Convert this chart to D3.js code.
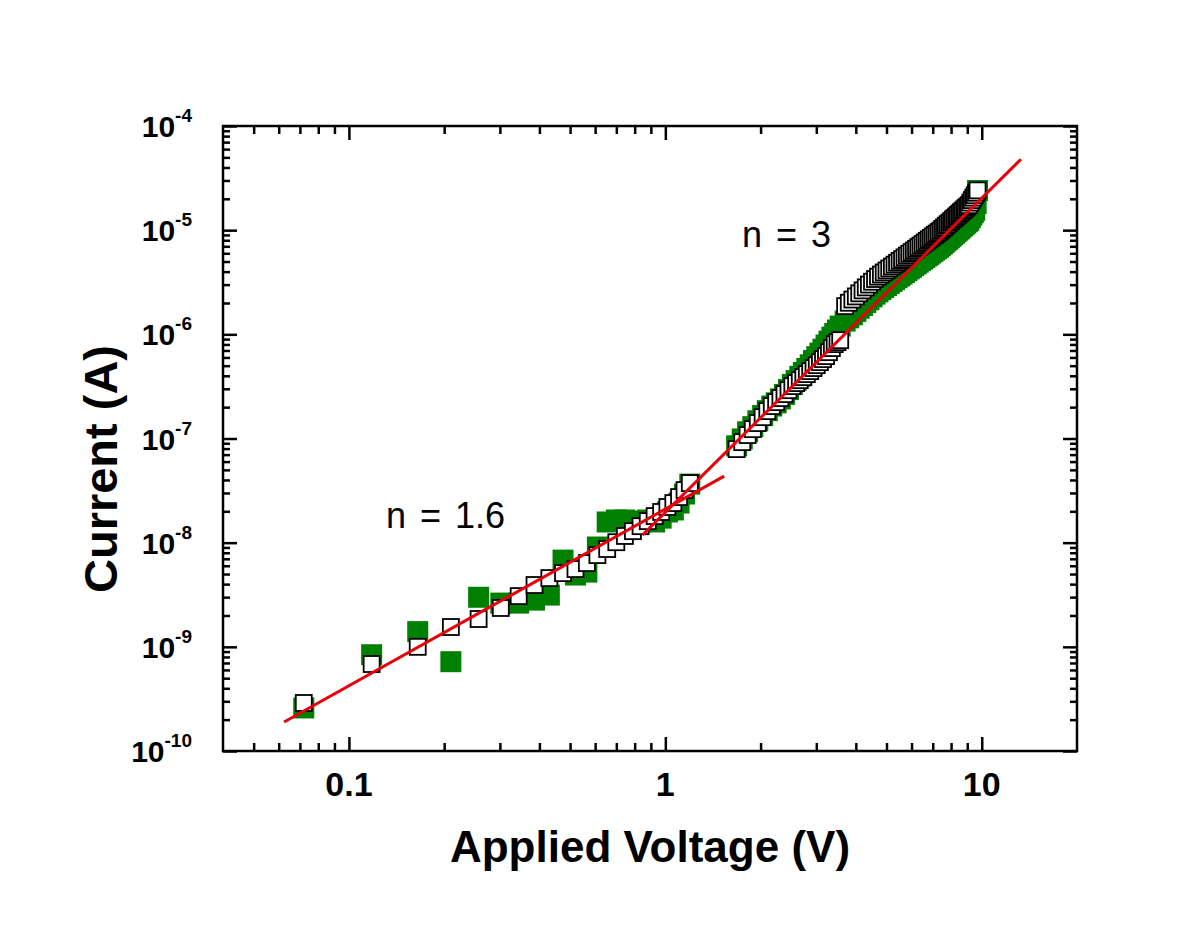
<!DOCTYPE html>
<html><head><meta charset="utf-8">
<script src="https://cdn.jsdelivr.net/npm/d3@7"></script>
<style>body{margin:0;background:#fff}</style>
</head><body><svg id="c" width="1200" height="938"></svg>
<script>
// ---- data ----
const voltage = [0.072,0.118,0.165,0.210,0.257,0.302,0.344,0.386,0.43,0.475,0.52,0.565,0.61,0.655,0.70,0.745,0.79,0.835,0.88,0.925,0.97,1.015,1.06,1.105,1.15,1.195,
1.68,1.75,1.82,1.89,1.96,2.03,2.10,2.17,2.24,2.31,2.38,2.45,2.52,2.59,2.66,2.73,2.80,2.87,2.94,3.01,3.08,3.15,3.22,3.29,3.36,3.43,3.50,3.57,
3.7,3.8,3.9,4.0,4.1,4.2,4.3,4.4,4.5,4.6,4.7,4.8,4.9,5.0,5.1,5.2,5.3,5.4,5.5,5.6,5.7,5.8,5.9,6.0,6.1,6.2,6.3,6.4,6.5,6.6,6.7,6.8,6.9,7.0,7.1,7.2,7.3,7.4,7.5,7.6,7.7,7.8,7.9,8.0,8.1,8.2,8.3,8.4,8.5,8.6,8.7,8.8,8.9,9.0,9.1,9.2,9.3,9.4,9.5,9.6,9.7];
const currentOpen = [2.89e-10,6.84e-10,1.0e-9,1.55e-9,1.85e-9,2.36e-9,3.07e-9,3.92e-9,4.57e-9,5.10e-9,5.58e-9,6.37e-9,7.60e-9,8.69e-9,1.01e-8,1.16e-8,1.29e-8,1.44e-8,1.61e-8,1.80e-8,1.97e-8,2.20e-8,2.40e-8,2.74e-8,3.20e-8,3.73e-8,
7.91e-8,9.23e-8,1.079e-7,1.230e-7,1.406e-7,1.603e-7,1.832e-7,2.047e-7,2.234e-7,2.443e-7,2.667e-7,2.911e-7,3.184e-7,3.404e-7,3.631e-7,3.882e-7,4.150e-7,4.436e-7,4.742e-7,5.058e-7,5.408e-7,5.781e-7,6.180e-7,6.745e-7,7.379e-7,8.054e-7,8.41e-7,8.79e-7,
1.866e-6,2.01e-6,2.158e-6,2.312e-6,2.475e-6,2.642e-6,2.822e-6,3.006e-6,3.199e-6,3.396e-6,3.576e-6,3.750e-6,3.926e-6,4.102e-6,4.285e-6,4.477e-6,4.667e-6,4.864e-6,5.070e-6,5.272e-6,5.483e-6,5.702e-6,5.929e-6,6.152e-6,6.383e-6,6.622e-6,6.871e-6,7.112e-6,7.362e-6,7.621e-6,7.889e-6,8.147e-6,8.414e-6,8.710e-6,8.995e-6,9.268e-6,9.572e-6,9.886e-6,1.026e-5,1.062e-5,1.102e-5,1.140e-5,1.180e-5,1.222e-5,1.265e-5,1.306e-5,1.352e-5,1.396e-5,1.442e-5,1.489e-5,1.538e-5,1.585e-5,1.637e-5,1.687e-5,1.738e-5,1.839e-5,1.943e-5,2.051e-5,2.163e-5,2.286e-5,2.410e-5];
const currentGreen = [2.59e-10,8.4e-10,1.40e-9,7.2e-10,2.99e-9,2.63e-9,2.63e-9,2.81e-9,3.14e-9,6.8e-9,4.89e-9,5.22e-9,9.08e-9,1.58e-8,1.65e-8,1.65e-8,1.61e-8,1.58e-8,1.65e-8,1.58e-8,1.72e-8,1.97e-8,2.06e-8,2.40e-8,2.93e-8,3.65e-8,
8.5e-8,9.9e-8,1.16e-7,1.30e-7,1.48e-7,1.66e-7,1.85e-7,2.05e-7,2.2e-7,2.4e-7,2.65e-7,2.95e-7,3.3e-7,3.6e-7,3.95e-7,4.3e-7,4.7e-7,5.1e-7,5.6e-7,6.1e-7,6.6e-7,7.2e-7,7.9e-7,8.6e-7,9.4e-7,1.02e-6,1.1e-6,1.2e-6,
1.34e-6,1.44e-6,1.54e-6,1.66e-6,1.78e-6,1.89e-6,2.02e-6,2.15e-6,2.29e-6,2.43e-6,2.56e-6,2.69e-6,2.81e-6,2.94e-6,3.07e-6,3.21e-6,3.34e-6,3.49e-6,3.63e-6,3.78e-6,3.92e-6,4.08e-6,4.25e-6,4.41e-6,4.57e-6,4.74e-6,4.92e-6,5.10e-6,5.27e-6,5.46e-6,5.65e-6,5.83e-6,6.03e-6,6.24e-6,6.44e-6,6.64e-6,6.85e-6,7.08e-6,7.35e-6,7.61e-6,7.90e-6,8.17e-6,8.45e-6,8.75e-6,9.06e-6,9.36e-6,9.68e-6,1.0e-5,1.032e-5,1.067e-5,1.101e-5,1.135e-5,1.172e-5,1.208e-5,1.244e-5,1.317e-5,1.395e-5,1.47e-5,1.55e-5,1.80e-5,2.40e-5];
const fitLowV = [0.0624, 1.535];
const fitLowI = [1.90e-10, 4.35e-8];
const fitHighV = [0.846, 13.3];
const fitHighI = [1.18e-8, 4.8e-5];
const xTickValues = [0.1, 1, 10];
const xTickLabels = ["0.1", "1", "10"];
const yTickExponents = [-10, -9, -8, -7, -6, -5, -4];
const annotations = [{text:"n = 3", V:1.746, I:6.9e-6}, {text:"n = 1.6", V:0.131, I:1.38e-8}];

// ---- chart ----
const svg = d3.select("#c");
const L = 223, R = 1077, T = 126, B = 751;
const x = d3.scaleLog().domain([0.04, 20]).range([L, R]);
const y = d3.scaleLog().domain([1e-10, 1e-4]).range([B, T]);
const font = "Arial, 'Liberation Sans', Helvetica, sans-serif";

// minor ticks
const minorX = [];
[0.01, 0.1, 1, 10].forEach(d => { for (let k = 2; k <= 9; k++) { const v = k * d; if (v > 0.04 && v < 20) minorX.push(v); } });
const minorY = [];
yTickExponents.forEach(e => { for (let k = 2; k <= 9; k++) { const v = k * Math.pow(10, e); if (v < 1e-4) minorY.push(v); } });
const majorY = yTickExponents.map(e => Math.pow(10, e));

function axisG(axis, tx, ty) {
  const g = svg.append("g").attr("transform", `translate(${tx},${ty})`).call(axis);
  g.select(".domain").remove();
  g.selectAll("text").remove();
  g.selectAll("line").attr("stroke", "#000").attr("stroke-width", 2.5);
  return g;
}
axisG(d3.axisBottom(x).tickValues(xTickValues).tickSize(-14), 0, B);
axisG(d3.axisBottom(x).tickValues(minorX).tickSize(-8), 0, B);
axisG(d3.axisTop(x).tickValues(xTickValues).tickSize(-14), 0, T);
axisG(d3.axisTop(x).tickValues(minorX).tickSize(-8), 0, T);
axisG(d3.axisLeft(y).tickValues(majorY).tickSize(-14), L, 0);
axisG(d3.axisLeft(y).tickValues(minorY).tickSize(-7), L, 0);
axisG(d3.axisRight(y).tickValues(majorY).tickSize(-14), R, 0);
axisG(d3.axisRight(y).tickValues(minorY).tickSize(-7), R, 0);

svg.append("rect").attr("x", L).attr("y", T).attr("width", R - L).attr("height", B - T)
  .attr("fill", "none").attr("stroke", "#000").attr("stroke-width", 2.5);

// tick labels
svg.append("g").selectAll("text").data(xTickValues).join("text")
  .attr("x", d => x(d)).attr("y", 796).attr("text-anchor", "middle")
  .attr("font-family", font).attr("font-weight", "bold").attr("font-size", 34)
  .text((d, i) => xTickLabels[i]);

const yl = svg.append("g").selectAll("text").data(yTickExponents).join("text")
  .attr("x", 192).attr("y", d => y(Math.pow(10, d)) + 11).attr("text-anchor", "end")
  .attr("font-family", font).attr("font-weight", "bold");
yl.append("tspan").attr("font-size", 30).text("10");
yl.append("tspan").attr("font-size", 19).attr("dy", -15).text(d => String(d));

// axis titles
svg.append("text").attr("x", 650).attr("y", 862).attr("text-anchor", "middle")
  .attr("font-family", font).attr("font-weight", "bold").attr("font-size", 44)
  .text("Applied Voltage (V)");
svg.append("text").attr("transform", "translate(117,469) rotate(-90)").attr("text-anchor", "middle")
  .attr("font-family", font).attr("font-weight", "bold").attr("font-size", 47)
  .text("Current (A)");

// data
const pts = voltage.map((v, i) => ({v, io: currentOpen[i], ig: currentGreen[i]}));
const gs = 21, os = 16;
svg.append("g").selectAll("rect").data(pts).join("rect")
  .attr("x", d => x(d.v) - gs / 2).attr("y", d => y(d.ig) - gs / 2)
  .attr("width", gs).attr("height", gs).attr("fill", "#008000");
svg.append("g").selectAll("rect").data(pts).join("rect")
  .attr("x", d => x(d.v) - os / 2).attr("y", d => y(d.io) - os / 2)
  .attr("width", os).attr("height", os).attr("fill", "#fff").attr("stroke", "#000").attr("stroke-width", 1.8);

// fit lines
const line = d3.line().x(d => x(d[0])).y(d => y(d[1]));
svg.append("path").attr("d", line(fitLowV.map((v, i) => [v, fitLowI[i]])))
  .attr("fill", "none").attr("stroke", "#e8000b").attr("stroke-width", 3);
svg.append("path").attr("d", line(fitHighV.map((v, i) => [v, fitHighI[i]])))
  .attr("fill", "none").attr("stroke", "#e8000b").attr("stroke-width", 3);

// annotations
svg.append("g").selectAll("text").data(annotations).join("text")
  .attr("x", d => x(d.V)).attr("y", d => y(d.I))
  .attr("font-family", font).attr("font-size", 36).attr("word-spacing", 4).attr("fill", "#000")
  .text(d => d.text);
</script></body></html>
